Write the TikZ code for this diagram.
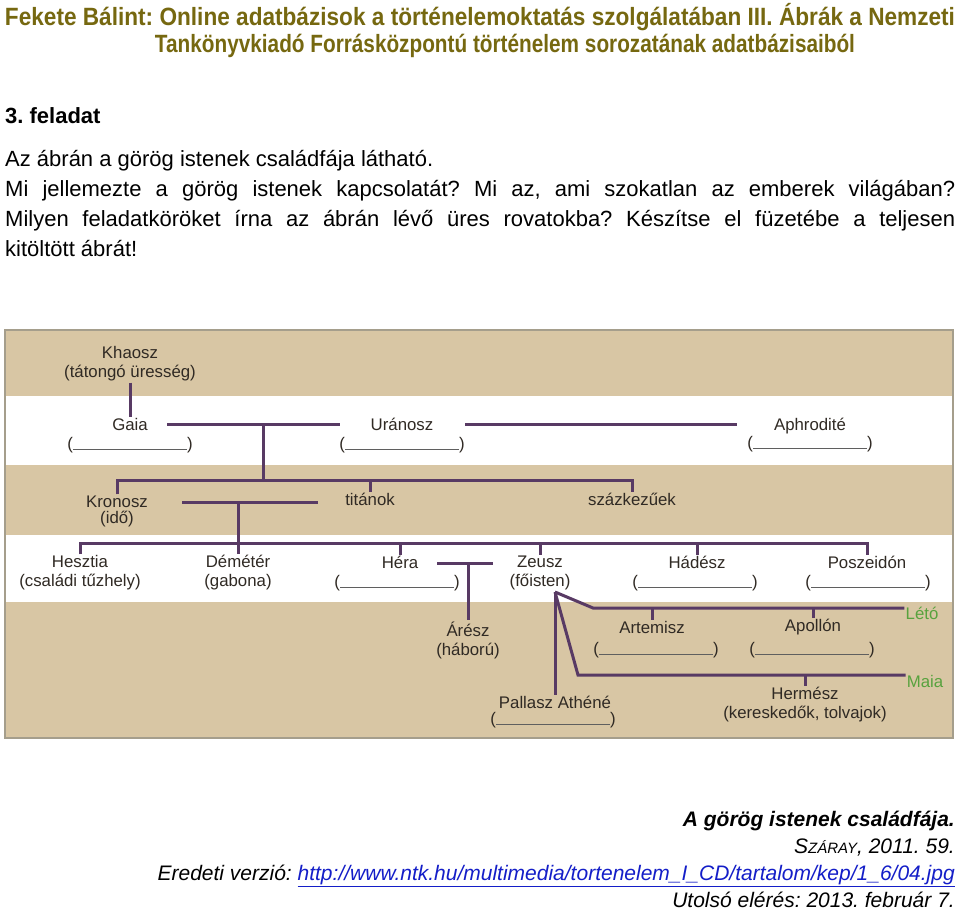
\documentclass[tikz,border=0pt]{standalone}
\usepackage{fontspec}
\setmainfont{Liberation Sans}
\usepackage{graphicx}
\frenchspacing

% Font sizes
\newcommand{\headfont}{\fontsize{25}{30}\selectfont\bfseries}
\newcommand{\bodyfont}{\fontsize{22}{30}\selectfont}
\newcommand{\godfont}{\fontsize{16.8}{19}\selectfont}
\newcommand{\capfont}{\fontsize{21}{27}\selectfont\itshape}
\newcommand{\blankfield}{(\textcolor{blankcolor}{\rule[-0.5pt]{114pt}{0.8pt}})}

\begin{document}
\begin{tikzpicture}[x=1pt, y=-1pt,
    godname/.style={font=\godfont, text=godtext, inner sep=1pt, align=center},
    blank/.style={font=\godfont, text=godtext, inner sep=0pt},
    famline/.style={draw=famcolor, line width=3pt},
    wifename/.style={font=\godfont, text=wifecolor, inner sep=1pt}]
    % Define colors
    \definecolor{headcolor}{RGB}{118, 104, 16}
    \definecolor{bandcolor}{RGB}{216, 198, 164}
    \definecolor{framecolor}{RGB}{165, 158, 140}
    \definecolor{famcolor}{RGB}{88, 58, 100}
    \definecolor{godtext}{RGB}{48, 42, 36}
    \definecolor{blankcolor}{RGB}{95, 95, 95}
    \definecolor{wifecolor}{RGB}{88, 162, 62}
    \definecolor{urlcolor}{RGB}{20, 30, 200}

    % Page
    \useasboundingbox (0,0) rectangle (960,911);
    \fill[white] (0,0) rectangle (960,911);

    % Title
    \node[font=\headfont, text=headcolor, anchor=base, inner sep=0pt] (title1) at (480,25)
        {\resizebox{950pt}{\height}{Fekete Bálint: Online adatbázisok a történelemoktatás szolgálatában III. Ábrák a Nemzeti}};
    \node[font=\headfont, text=headcolor, anchor=base, inner sep=0pt] (title2) at (505,52)
        {\resizebox{700pt}{\height}{Tankönyvkiadó Forrásközpontú történelem sorozatának adatbázisaiból}};

    % Task text
    \node[font=\bodyfont\bfseries, anchor=base west, inner sep=0pt] (task) at (5,123) {3. feladat};
    \node[font=\bodyfont, anchor=base west, inner sep=0pt] (line1) at (5,166) {Az ábrán a görög istenek családfája látható.};
    \node[font=\bodyfont, anchor=base west, inner sep=0pt] (line2) at (5,196)
        {\makebox[950pt][s]{Mi jellemezte a görög istenek kapcsolatát? Mi az, ami szokatlan az emberek világában?}};
    \node[font=\bodyfont, anchor=base west, inner sep=0pt] (line3) at (5,226)
        {\makebox[950pt][s]{Milyen feladatköröket írna az ábrán lévő üres rovatokba? Készítse el füzetébe a teljesen}};
    \node[font=\bodyfont, anchor=base west, inner sep=0pt] (line4) at (5,256) {kitöltött ábrát!};

    % Diagram bands
    \fill[bandcolor] (5,330) rectangle (953,738);
    \fill[white] (5,396) rectangle (953,465);
    \fill[white] (5,535) rectangle (953,602);
    \draw[framecolor, line width=1.5pt] (5,330) rectangle (953,738);

    % Gods
    \node[godname] (khaosz) at (130,364) {Khaosz\\(tátongó üresség)};
    \node[godname] (gaia) at (130,424) {Gaia};
    \node[godname] (uranosz) at (402,424) {Uránosz};
    \node[godname] (aphrodite) at (810,426) {Aphrodité};
    \node[godname] (kronosz) at (117,511) {Kronosz\\[-3pt](idő)};
    \node[godname] (titanok) at (370,499) {titánok};
    \node[godname] (szazkezuek) at (632,499) {százkezűek};
    \node[godname] (hesztia) at (80,573) {Hesztia\\(családi tűzhely)};
    \node[godname] (demeter) at (238,573) {Démétér\\(gabona)};
    \node[godname] (hera) at (400,562) {Héra};
    \node[godname] (zeusz) at (540,573) {Zeusz\\(főisten)};
    \node[godname] (hadesz) at (697,562) {Hádész};
    \node[godname] (poszeidon) at (867,562) {Poszeidón};
    \node[godname] (aresz) at (468,640) {Árész\\(háború)};
    \node[godname] (artemisz) at (652,627) {Artemisz};
    \node[godname] (apollon) at (813,627) {Apollón};
    \node[godname] (hermesz) at (805,705) {Hermész\\(kereskedők, tolvajok)};
    \node[godname] (pallasz) at (555,702) {Pallasz Athéné};
    \node[wifename] (leto) at (922,613) {Létó};
    \node[wifename] (maia) at (925,681) {Maia};

    % Empty fields
    \foreach \b/\x/\y in {gaiab/130/445, uranoszb/402/445, aphroditeb/810/444,
        herab/397/583, hadeszb/695/583, poszeidonb/868/583,
        artemiszb/656/650, apollonb/812/650, pallaszb/553/720}
        \node[blank] (\b) at (\x,\y) {\blankfield};

    % Khaosz -> Gaia
    \draw[famline] (khaosz.south) -- (gaia.north);

    % Gaia + Uranosz, Uranosz -- Aphrodite
    \coordinate (gu1) at (167,424);
    \coordinate (gu2) at (340,424);
    \coordinate (gumid) at (263,424);
    \coordinate (ua1) at (465,424);
    \coordinate (ua2) at (737,424);
    \draw[famline] (gu1) -- (gu2);
    \draw[famline] (ua1) -- (ua2);

    % Titans
    \coordinate (titanbar) at (263,480);
    \draw[famline] (gumid) -- (titanbar);
    \draw[famline] (kronosz.north) -- (kronosz.north |- titanbar) -- (szazkezuek.north |- titanbar) -- (szazkezuek.north);
    \draw[famline] (titanok.north |- titanbar) -- (titanok.north);

    % Kronosz + Rhea
    \coordinate (kr1) at (182,502);
    \coordinate (kr2) at (318,502);
    \coordinate (krmid) at (238,502);
    \draw[famline] (kr1) -- (kr2);
    \draw[famline] (krmid) -- (demeter.north);

    % Children of Kronosz
    \coordinate (childbar) at (0,543);
    \draw[famline] (hesztia.north) -- (hesztia.north |- childbar) -- (poszeidon.north |- childbar) -- (poszeidon.north);
    \foreach \g in {hera, zeusz, hadesz}
        \draw[famline] (\g.north |- childbar) -- (\g.north);

    % Hera + Zeusz
    \coordinate (hz1) at (437,563);
    \coordinate (hz2) at (493,563);
    \coordinate (hzmid) at (468,563);
    \draw[famline] (hz1) -- (hz2);
    \draw[famline] (hzmid) -- (aresz.north);

    % Zeusz with Leto, Maia and alone
    \coordinate (zb) at (555,592);
    \coordinate (leto1) at (593,608);
    \coordinate (maia1) at (578,675);
    \draw[famline] (zb) -- (leto1) -- (leto1 -| leto.west);
    \draw[famline] (zb) -- (maia1) -- (maia1 -| maia.west);
    \draw[famline] (zb) -- (pallasz.north);
    \foreach \g in {artemisz, apollon}
        \draw[famline] (\g.north |- leto1) -- (\g.north);
    \draw[famline] (hermesz.north |- maia1) -- (hermesz.north);

    % Caption
    \node[font=\capfont\bfseries, anchor=base east, inner sep=0pt] (cap1) at (955,826) {A görög istenek családfája.};
    \node[font=\capfont, anchor=base east, inner sep=0pt] (cap2) at (955,853) {S{\fontsize{15}{18}\selectfont ZÁRAY}, 2011. 59.};
    \node[font=\capfont, anchor=base east, inner sep=0pt] (cap3) at (955,880)
        {Eredeti verzió: \textcolor{urlcolor}{\underline{http://www.ntk.hu/multimedia/tortenelem\_I\_CD/tartalom/kep/1\_6/04.jpg}}};
    \node[font=\capfont, anchor=base east, inner sep=0pt] (cap4) at (955,907) {Utolsó elérés: 2013. február 7.};
\end{tikzpicture}
\end{document}
